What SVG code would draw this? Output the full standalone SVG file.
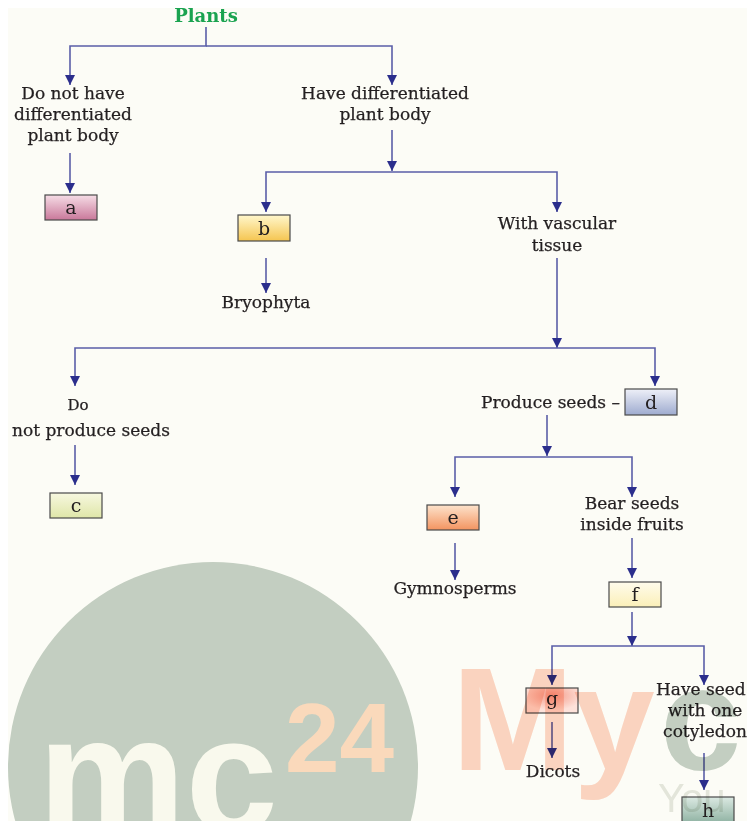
<svg xmlns="http://www.w3.org/2000/svg" width="747" height="821" viewBox="0 0 747 821">
<defs>
<style>
.t{font-family:"DejaVu Serif","Liberation Serif",serif;font-size:17px;fill:#231f20;stroke:#231f20;stroke-width:0.25;text-anchor:middle}
.sm{font-size:15px}
.bl{font-family:"DejaVu Serif","Liberation Serif",serif;font-size:19px;fill:#231f20;text-anchor:middle}
.bx{stroke:#4a4a4a;stroke-width:1.2}
.c{fill:none;stroke:#5a5ea8;stroke-width:1.6}
.wm{mix-blend-mode:multiply}
.ws{font-family:"Liberation Sans",Arial,sans-serif;font-weight:bold}
</style>
<marker id="ah" viewBox="0 0 10 10" refX="10" refY="5" markerWidth="10" markerHeight="10" markerUnits="userSpaceOnUse" orient="auto">
<path d="M0,0 L10,5 L0,10 z" fill="#2b2e8c"/>
</marker>
<linearGradient id="ga" x1="0" y1="0" x2="0" y2="1"><stop offset="0" stop-color="#f6dde6"/><stop offset="1" stop-color="#c9789a"/></linearGradient>
<linearGradient id="gb" x1="0" y1="0" x2="0" y2="1"><stop offset="0" stop-color="#fff7cc"/><stop offset="1" stop-color="#f5c550"/></linearGradient>
<linearGradient id="gc" x1="0" y1="0" x2="0" y2="1"><stop offset="0" stop-color="#f7f8e0"/><stop offset="1" stop-color="#dfe6a8"/></linearGradient>
<linearGradient id="gd" x1="0" y1="0" x2="0" y2="1"><stop offset="0" stop-color="#eef0f8"/><stop offset="1" stop-color="#9eabcf"/></linearGradient>
<linearGradient id="ge" x1="0" y1="0" x2="0" y2="1"><stop offset="0" stop-color="#fde3cc"/><stop offset="1" stop-color="#f39460"/></linearGradient>
<linearGradient id="gf" x1="0" y1="0" x2="0" y2="1"><stop offset="0" stop-color="#fffcec"/><stop offset="1" stop-color="#fbefb8"/></linearGradient>
<radialGradient id="gg" cx="0.5" cy="0.3" r="0.6"><stop offset="0" stop-color="#f49a88"/><stop offset="1" stop-color="#fde2da"/></radialGradient>
<linearGradient id="gh" x1="0" y1="0" x2="0" y2="1"><stop offset="0" stop-color="#dbe9e2"/><stop offset="1" stop-color="#8fb2a2"/></linearGradient>
</defs>
<rect width="747" height="821" fill="#ffffff"/>
<rect x="8" y="8" width="739" height="813" fill="#fcfcf6"/>

<g id="connectors">
<path class="c" d="M206,27 V46 H70 V85" marker-end="url(#ah)"/>
<path class="c" d="M206,46 H392 V85" marker-end="url(#ah)"/>
<path class="c" d="M70,153 V193" marker-end="url(#ah)"/>
<path class="c" d="M392,130 V171" marker-end="url(#ah)"/>
<path class="c" d="M392,172 H266 V212" marker-end="url(#ah)"/>
<path class="c" d="M392,172 H557 V212" marker-end="url(#ah)"/>
<path class="c" d="M266,258 V293" marker-end="url(#ah)"/>
<path class="c" d="M557,258 V348" marker-end="url(#ah)"/>
<path class="c" d="M557,348 H75 V386" marker-end="url(#ah)"/>
<path class="c" d="M557,348 H655 V386" marker-end="url(#ah)"/>
<path class="c" d="M75,445 V485" marker-end="url(#ah)"/>
<path class="c" d="M547,415 V456" marker-end="url(#ah)"/>
<path class="c" d="M547,457 H455 V497" marker-end="url(#ah)"/>
<path class="c" d="M547,457 H632 V497" marker-end="url(#ah)"/>
<path class="c" d="M455,543 V580" marker-end="url(#ah)"/>
<path class="c" d="M632,538 V578" marker-end="url(#ah)"/>
<path class="c" d="M632,612 V646" marker-end="url(#ah)"/>
<path class="c" d="M632,646 H552 V685" marker-end="url(#ah)"/>
<path class="c" d="M632,646 H704 V685" marker-end="url(#ah)"/>
<path class="c" d="M552,722 V758" marker-end="url(#ah)"/>
<path class="c" d="M704,753 V790" marker-end="url(#ah)"/>
</g>

<g id="plants"><text x="206" y="22" font-family="DejaVu Serif,serif" font-weight="bold" font-size="18" fill="#1aa350" text-anchor="middle">Plants</text></g>
<g id="no-diff"><text class="t" x="73" y="99">Do not have</text><text class="t" x="73" y="120">differentiated</text><text class="t" x="73" y="141">plant body</text></g>
<g id="diff"><text class="t" x="385" y="99">Have differentiated</text><text class="t" x="385" y="120">plant body</text></g>
<g id="a"><rect class="bx" x="45" y="195" width="52" height="25" fill="url(#ga)"/><text class="bl" x="71" y="214">a</text></g>
<g id="b"><rect class="bx" x="238" y="215" width="52" height="26" fill="url(#gb)"/><text class="bl" x="264" y="235">b</text></g>
<g id="bryophyta"><text class="t" x="266" y="308">Bryophyta</text></g>
<g id="vascular"><text class="t" x="557" y="229">With vascular</text><text class="t" x="557" y="251">tissue</text></g>
<g id="no-seeds"><text class="t sm" x="78" y="410">Do</text><text class="t" x="91" y="436">not produce seeds</text></g>
<g id="c"><rect class="bx" x="50" y="493" width="52" height="25" fill="url(#gc)"/><text class="bl" x="76" y="512">c</text></g>
<g id="produce"><text class="t" x="620" y="408" style="text-anchor:end">Produce seeds –</text></g>
<g id="d"><rect class="bx" x="625" y="389" width="52" height="26" fill="url(#gd)"/><text class="bl" x="651" y="409">d</text></g>
<g id="e"><rect class="bx" x="427" y="505" width="52" height="25" fill="url(#ge)"/><text class="bl" x="453" y="524">e</text></g>
<g id="gymno"><text class="t" x="455" y="594">Gymnosperms</text></g>
<g id="fruits"><text class="t" x="632" y="509">Bear seeds</text><text class="t" x="632" y="530">inside fruits</text></g>
<g id="f"><rect class="bx" x="609" y="582" width="52" height="25" fill="url(#gf)"/><text class="bl" x="635" y="601">f</text></g>
<g id="g"><rect class="bx" x="526" y="688" width="52" height="25" fill="url(#gg)"/><text class="bl" x="552" y="705">g</text></g>
<g id="dicots"><text class="t" x="553" y="777">Dicots</text></g>
<g id="mono"><text class="t" x="656" y="695" style="text-anchor:start">Have seed</text><text class="t" x="705" y="716">with one</text><text class="t" x="705" y="737">cotyledon</text></g>
<g id="h"><rect class="bx" x="682" y="797" width="52" height="26" fill="url(#gh)"/><text class="bl" x="708" y="817">h</text></g>

<g id="watermark" class="wm">
<circle cx="213" cy="767" r="205" fill="#c6d1c8"/>
<text class="ws" x="38" y="832" font-size="166" fill="#fcfcf6">mc</text>
<text class="ws" x="285" y="772" font-size="98" fill="#fddcc2">24</text>
<text class="ws" x="452" y="770" font-size="146" fill="#fdd6c6">My</text>
<text class="ws" x="660" y="770" font-size="146" fill="#c6d1c8">c</text>
<text x="658" y="812" font-family="Liberation Sans,Arial,sans-serif" font-size="40" fill="#e6e8e2">You</text>
</g>
</svg>
